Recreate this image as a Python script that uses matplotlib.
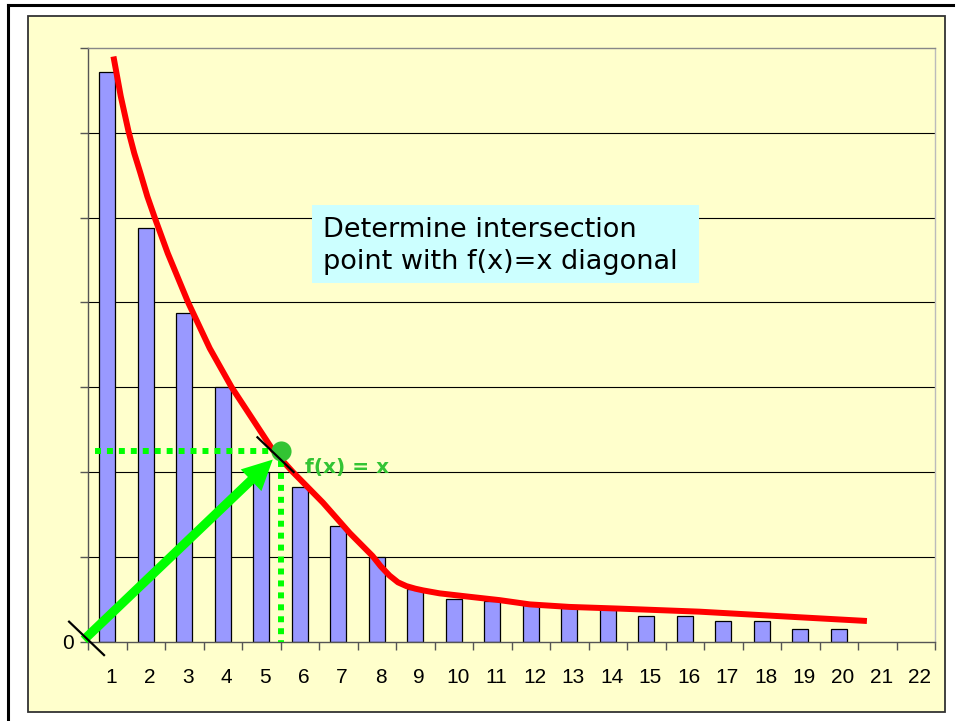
import matplotlib.pyplot as plt
from matplotlib.patches import Rectangle, FancyArrowPatch
from matplotlib.lines import Line2D

plt.rcParams['font.family'] = ['Liberation Sans', 'DejaVu Sans']

# bar values (y in gridline units)
bar_cats = list(range(1, 21))
bar_values = [6.72, 4.88, 3.88, 3.0, 2.0, 1.82, 1.36, 1.0, 0.62, 0.50,
              0.48, 0.43, 0.42, 0.40, 0.30, 0.30, 0.24, 0.24, 0.155, 0.155]
tick_labels = [str(i) for i in range(1, 23)]

# fitted curve
curve_x = [1.16, 1.35, 1.55, 1.70, 1.85, 2.04, 2.24, 2.57, 3.10, 3.66, 4.23,
           4.78, 5.30, 5.82, 6.60, 7.30, 7.89, 8.10, 8.33, 8.55, 8.77, 9.00,
           9.20, 9.63, 10.4, 11.19, 11.97, 13.0, 14.30, 16.38, 18.5, 20.73]
curve_y = [6.90, 6.43, 6.02, 5.76, 5.54, 5.25, 4.99, 4.58, 4.00, 3.46, 3.00,
           2.62, 2.26, 2.00, 1.64, 1.28, 1.01, 0.89, 0.78, 0.70, 0.655, 0.625,
           0.605, 0.57, 0.53, 0.49, 0.44, 0.41, 0.39, 0.354, 0.30, 0.244]

# intersection point with f(x)=x
ix, iy = 5.50, 2.25

fig = plt.figure(figsize=(9.56, 7.21), dpi=100)
fig.patch.set_facecolor('white')

# outer frame and yellow panel
fig.add_artist(Line2D([0.0084, 0.997], [0.9931, 0.9931], color='black', lw=2.2,
                      transform=fig.transFigure))
fig.add_artist(Line2D([0.0084, 0.0084], [0.0, 0.9931], color='black', lw=2.2,
                      transform=fig.transFigure))
fig.add_artist(Rectangle((0.0293, 0.0129), 0.9592, 0.9649, transform=fig.transFigure,
                         facecolor='#FFFFCC', edgecolor='#333333', lw=1.3, zorder=0))

ax = fig.add_axes([0.0921, 0.110, 0.886, 0.8234])
ax.set_facecolor('#FFFFCC')
ax.set_xlim(0.5, 22.5)
ax.set_ylim(0, 7)

# gridlines
for g in range(1, 7):
    ax.axhline(g, color='black', lw=0.8, zorder=1)

ax.bar(bar_cats, bar_values, width=0.41, color='#9999FF', edgecolor='black',
       linewidth=0.9, zorder=2)

ax.plot(curve_x, curve_y, color='#FF0000', lw=4.3, solid_joinstyle='round',
        solid_capstyle='butt', zorder=4)

# spines
ax.spines['left'].set_color('#555555')
ax.spines['bottom'].set_color('#555555')
ax.spines['top'].set_color('#888888')
ax.spines['right'].set_color('#BBBBBB')
for s in ax.spines.values():
    s.set_linewidth(1.0)

# ticks: labels slightly right of category centre, tick marks between categories
ax.set_xticks([i + 0.1 for i in range(1, 23)])
ax.set_xticklabels(tick_labels)
ax.set_xticks([i + 0.5 for i in range(0, 23)], minor=True)
ax.tick_params(axis='x', which='major', length=0, pad=19, labelsize=15)
ax.tick_params(axis='x', which='minor', length=6, color='#555555', width=1)
ax.set_yticks(range(0, 8))
ax.set_yticklabels(['0'] + [''] * 7)
ax.tick_params(axis='y', length=6, color='#555555', width=1, pad=4, labelsize=15)

# dotted guide lines
ax.plot([0.68, ix - 0.15], [iy, iy], color='#00FF00', lw=4.3,
        linestyle=(0, (1, 1)), dash_capstyle='butt', zorder=5)
ax.plot([ix, ix], [iy - 0.12, 0], color='#00FF00', lw=4.3,
        linestyle=(0, (1, 1)), dash_capstyle='butt', zorder=5)

# diagonal arrow
arrow = FancyArrowPatch((0.34, 0.0), (5.35, 2.17),
                        arrowstyle='simple,head_width=1.8,head_length=1.8,tail_width=0.55',
                        mutation_scale=12, color='#00FF00', lw=0, zorder=6, clip_on=False)
ax.add_patch(arrow)

# intersection dot
ax.plot([ix], [iy], 'o', color='#33C433', markersize=14.5, markeredgewidth=0, zorder=6)

# tangent line and origin slash
ax.plot([4.90, 5.84], [2.41, 2.00], color='black', lw=1.6, zorder=7)
ax.plot([0.007, 0.915], [0.236, -0.158], color='black', lw=1.6, zorder=7, clip_on=False)

ax.text(6.13, 1.99, 'f(x) = x', color='#33C433', fontsize=14.5, fontweight='bold',
        family='DejaVu Sans', va='baseline', ha='left', zorder=8)

# annotation box
ax.add_patch(Rectangle((6.31, 4.23), 10.07, 0.92, facecolor='#CCFFFF',
                       edgecolor='none', zorder=3))
ax.text(6.61, 4.77, 'Determine intersection', fontsize=19.5, family='DejaVu Sans',
        va='baseline', ha='left', color='black', zorder=8)
ax.text(6.61, 4.40, 'point with f(x)=x diagonal', fontsize=19.5, family='DejaVu Sans',
        va='baseline', ha='left', color='black', zorder=8)

fig.savefig('out.png', dpi=100, facecolor=fig.get_facecolor())
